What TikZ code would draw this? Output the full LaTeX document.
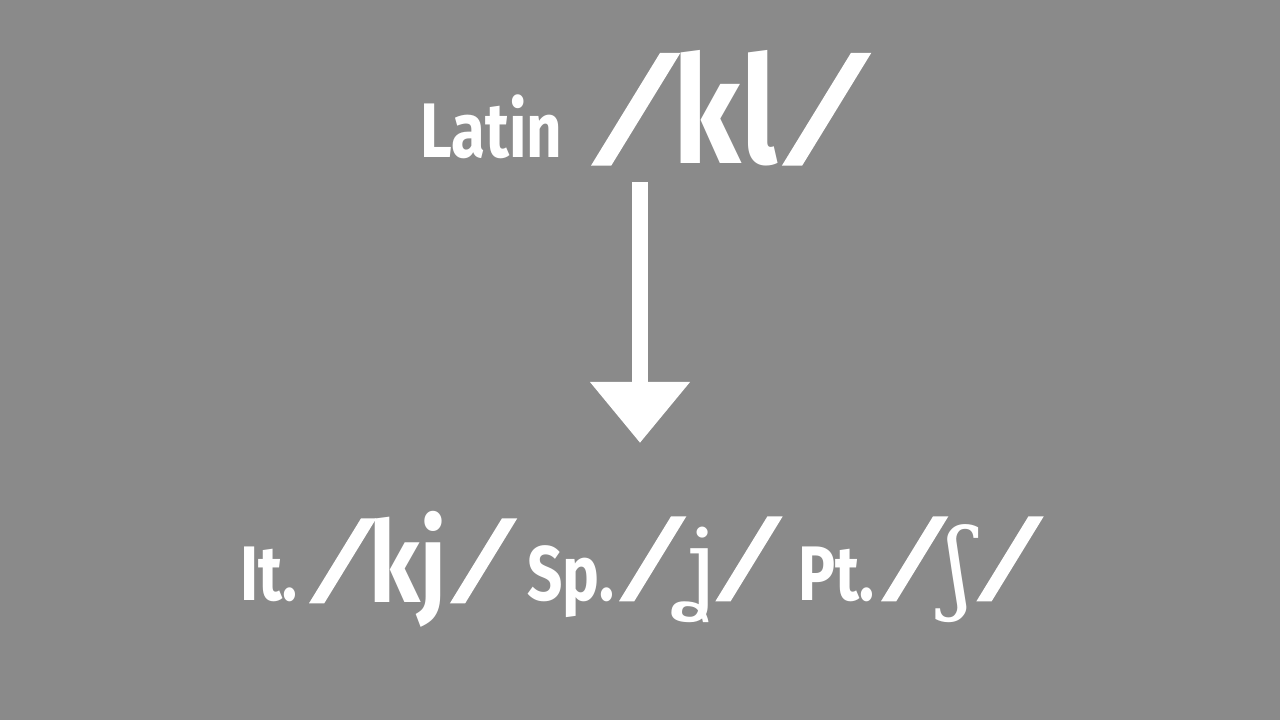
\documentclass[tikz,border=0pt]{standalone}
\usepackage{fontspec}
\setmainfont{Fira Sans}[FakeStretch=0.8]
\newfontfamily\letterfont{Fira Sans}[FakeStretch=0.82]
\newfontfamily\slashfont{DejaVu Sans}[UprightFont=* Bold, FakeSlant=0.3, FakeBold=4]
\newfontfamily\ipafont{DejaVu Serif}
\usetikzlibrary{arrows.meta}
\definecolor{bggray}{HTML}{8A8A8A}
% thick slanted slash of a transcription, #1 = size in pt
\newcommand\phsl[1]{{\slashfont\fontsize{#1}{#1}\selectfont\raisebox{0.1em}{/}}}
\tikzset{
  lang/.style={text=white, inner sep=0pt, anchor=base west,
    font=\bfseries\fontsize{55}{60}\selectfont},
  phon/.style={text=white, inner sep=0pt, anchor=base west},
}
\begin{document}
\begin{tikzpicture}[x=0.025cm,y=-0.025cm]
      \fill[bggray] (0,0) rectangle (1280,720);
      \useasboundingbox (0,0) rectangle (1280,720);
      \draw
        (420,158) node[lang] (latin){Latin}
        (599,164) node[phon] (kl){\phsl{93}\kern19pt{\letterfont\bfseries
          \fontsize{106}{110}\selectfont kl}\kern9pt\phsl{93}}
        (240,600) node[lang] (it){It.}
        (315,602) node[phon] (kj){\phsl{70}\kern13pt{\letterfont\bfseries
          \fontsize{80}{90}\selectfont kj}\kern7pt\phsl{70}}
        (527,600) node[lang] (sp){Sp.}
        (625,600) node[phon] (jj){\phsl{70}\kern14.5pt{\ipafont
          \fontsize{71}{80}\selectfont ʝ}\kern2.5pt\phsl{70}}
        (798,600) node[lang] (pt){Pt.}
        (887,600) node[phon] (sh){\phsl{70}\kern16pt{\ipafont
          \fontsize{71}{80}\selectfont ʃ}\kern7pt\phsl{70}};
      \coordinate (from) at (640,182);
      \coordinate (to) at (640,443);
      \begin{scope}[white, line width=0.4cm]
        \draw[-{Triangle[width=2.4cm,length=1.525cm]}] (from) to (to);
      \end{scope}
    \end{tikzpicture}
\end{document}
